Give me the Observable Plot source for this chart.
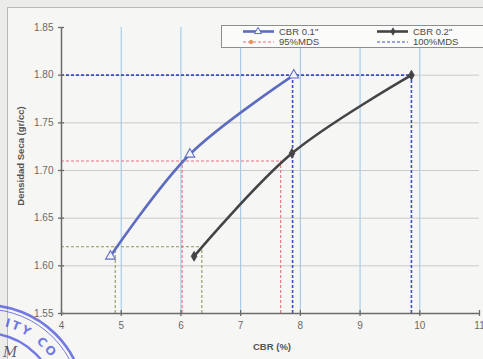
<!DOCTYPE html>
<html>
<head>
<meta charset="utf-8">
<script src="https://cdn.jsdelivr.net/npm/d3@7"></script>
<script src="https://cdn.jsdelivr.net/npm/@observablehq/plot@0.6"></script>
<style>
  body { margin: 0; background: #ececea; font-family: "Liberation Sans", Arial, sans-serif; }
  #chart { position: relative; width: 483px; height: 359px; overflow: hidden; background: #ececea; }
  #frame { position: absolute; left: 7px; top: 7px; width: 600px; height: 500px; border: 1px solid #b9b9b7; background: #f6f6f4; }
  #plot { position: absolute; left: 0; top: 0; }
  .title { position: absolute; font-weight: bold; font-size: 9.5px; color: #555; white-space: nowrap; }
  #xtitle { left: 272px; top: 346px; transform: translate(-50%, -50%); }
  #ytitle { left: 20px; top: 156px; transform: translate(-50%, -50%) rotate(-90deg); }
  #legend { position: absolute; left: 221px; top: 25px; width: 280px; height: 21px; background: #fbfbfa; border: 1px solid #8e8e8c; }
  #stamp { position: absolute; left: 0; top: 0; pointer-events: none; }
</style>
</head>
<body>
<div id="chart">
  <div id="frame"></div>
  <div id="plot"></div>
  <div id="xtitle" class="title">CBR  (%)</div>
  <div id="ytitle" class="title">Densidad Seca (gr/cc)</div>
  <div id="legend"></div>
  <svg id="stamp" width="483" height="359"></svg>
</div>
<script>
// Compaction curves: CBR (%) vs dry density for the two penetrations
const cbr01X = [4.82, 6.15, 7.89];
const cbr01Y = [1.610, 1.717, 1.800];
const cbr02X = [6.22, 7.86, 9.86];
const cbr02Y = [1.610, 1.718, 1.800];

// Reference densities (% of max dry density) and the CBR read at each one
const mdsName = ["100%MDS", "95%MDS", "90%MDS"];
const mdsDensity = [1.80, 1.71, 1.62];
const mdsCbr01 = [7.87, 6.02, 4.90];
const mdsCbr02 = [9.86, 7.67, 6.35];
const mdsColor = ["#3a4fc4", "#e8707e", "#8f9a5a"];

const xTicks = [4, 5, 6, 7, 8, 9, 10, 11];
const yTicks = [1.55, 1.60, 1.65, 1.70, 1.75, 1.80, 1.85];
const xMin = 4, yMin = 1.55;

const blue = "#5d6cc0";
const dark = "#444446";

const curve01 = cbr01X.map((x, i) => ({x, y: cbr01Y[i]}));
const curve02 = cbr02X.map((x, i) => ({x, y: cbr02Y[i]}));
const mds = mdsName.map((name, i) => ({
  name, density: mdsDensity[i], c01: mdsCbr01[i], c02: mdsCbr02[i], color: mdsColor[i]
}));
const guideWidth = d => d.name === "100%MDS" ? 1.6 : 1.1;

const plot = Plot.plot({
  width: 483,
  height: 359,
  marginLeft: 61,
  marginRight: 4,
  marginTop: 27,
  marginBottom: 46,
  style: { background: "transparent", fontFamily: "'Liberation Sans', Arial, sans-serif", fontSize: "10px", color: "#6a6a6a" },
  x: { domain: [4, 11], ticks: xTicks, tickSize: 0, tickPadding: 8, label: null, tickFormat: d => String(d) },
  y: { domain: [1.55, 1.85], ticks: yTicks, tickSize: 0, tickPadding: 8, label: null, tickFormat: d => d.toFixed(2) },
  marks: [
    // grid
    Plot.ruleX(xTicks.slice(1, -1), { x: d => d, stroke: "#8dbfe6", strokeWidth: 0.9 }),
    Plot.ruleY(yTicks.slice(1, -1), { y: d => d, stroke: "#c6c6c4", strokeWidth: 0.9 }),
    // MDS guide lines: horizontal to the CBR 0.2" curve, verticals down to the axis
    Plot.ruleY(mds, { y: "density", x1: xMin, x2: "c02", stroke: "color", strokeDasharray: "3,2", strokeWidth: guideWidth }),
    Plot.ruleX(mds, { x: "c01", y1: yMin, y2: "density", stroke: "color", strokeDasharray: "3,2", strokeWidth: guideWidth }),
    Plot.ruleX(mds, { x: "c02", y1: yMin, y2: "density", stroke: "color", strokeDasharray: "3,2", strokeWidth: guideWidth }),
    // axis lines and crossing ticks
    Plot.ruleX([xMin], { stroke: "#6b6b6b", strokeWidth: 1.5 }),
    Plot.ruleY([yMin], { stroke: "#6b6b6b", strokeWidth: 1.5 }),
    Plot.ruleX(xTicks, { x: d => d, y1: yMin, y2: yMin, insetTop: -3, insetBottom: -3, stroke: "#6b6b6b", strokeWidth: 1.3 }),
    Plot.ruleY(yTicks, { y: d => d, x1: xMin, x2: xMin, insetLeft: -3, insetRight: -3, stroke: "#6b6b6b", strokeWidth: 1.3 }),
    // curves
    Plot.line(curve02, { x: "x", y: "y", curve: "catmull-rom", stroke: dark, strokeWidth: 2.6 }),
    Plot.line(curve01, { x: "x", y: "y", curve: "catmull-rom", stroke: blue, strokeWidth: 2.6 }),
    Plot.dot(curve02, { x: "x", y: "y", symbol: "diamond", r: 3, fill: dark, stroke: dark, strokeWidth: 0.8 }),
    Plot.dot(curve01, { x: "x", y: "y", symbol: "triangle", r: 3.6, fill: "#f4f4f8", stroke: blue, strokeWidth: 1.1 })
  ]
});
document.getElementById("plot").appendChild(plot);

// legend
const legendItems = [
  { text: "CBR 0.1\"", color: blue, width: 2.6, dash: null, marker: "triangle", col: 0, row: 0 },
  { text: "CBR 0.2\"", color: dark, width: 2.6, dash: null, marker: "diamond", col: 1, row: 0 },
  { text: "95%MDS", color: mdsColor[1], width: 1.1, dash: "3,2", marker: "dot", col: 0, row: 1 },
  { text: "100%MDS", color: mdsColor[0], width: 1.1, dash: "3,2", marker: null, col: 1, row: 1 }
];
const leg = d3.select("#legend").append("svg").attr("width", 280).attr("height", 21);
const colX = [21, 155];
legendItems.forEach(it => {
  const x0 = colX[it.col], y0 = 5.5 + it.row * 10.5;
  leg.append("line").attr("x1", x0).attr("x2", x0 + 31).attr("y1", y0).attr("y2", y0)
    .attr("stroke", it.color).attr("stroke-width", it.width).attr("stroke-dasharray", it.dash);
  if (it.marker === "triangle")
    leg.append("path").attr("d", d3.symbol(d3.symbolTriangle, 22)()).attr("transform", `translate(${x0 + 15},${y0})`)
      .attr("fill", "#f4f4f8").attr("stroke", it.color).attr("stroke-width", 1);
  if (it.marker === "diamond")
    leg.append("path").attr("d", d3.symbol(d3.symbolDiamond, 22)()).attr("transform", `translate(${x0 + 16},${y0})`)
      .attr("fill", it.color);
  if (it.marker === "dot")
    leg.append("circle").attr("cx", x0 + 8).attr("cy", y0).attr("r", 2.2).attr("fill", "#e09a60");
  leg.append("text").attr("x", x0 + 36).attr("y", y0).attr("dy", "0.35em")
    .attr("font-size", 9.5).attr("fill", "#4a4a4a").attr("font-family", "'Liberation Sans', Arial, sans-serif")
    .text(it.text);
});

// laboratory seal in the lower left corner
const stamp = d3.select("#stamp");
const cx = -15, cy = 405;
const ink = "rgba(78, 86, 222, 0.78)";
stamp.append("circle").attr("cx", cx).attr("cy", cy).attr("r", 100).attr("fill", "none").attr("stroke", ink).attr("stroke-width", 2.6);
stamp.append("circle").attr("cx", cx).attr("cy", cy).attr("r", 96).attr("fill", "none").attr("stroke", ink).attr("stroke-width", 1);
stamp.append("circle").attr("cx", cx).attr("cy", cy).attr("r", 72).attr("fill", "none").attr("stroke", ink).attr("stroke-width", 2.4);
const rT = 81;
const arc = (a0, a1, r) => {
  const p = a => [cx + r * Math.cos(a * Math.PI / 180), cy + r * Math.sin(a * Math.PI / 180)];
  const [x0, y0] = p(a0), [x1, y1] = p(a1);
  return `M${x0},${y0} A${r},${r} 0 0 1 ${x1},${y1}`;
};
const defs = stamp.append("defs");
defs.append("path").attr("id", "ringA").attr("d", arc(-76, -54, rT));
defs.append("path").attr("id", "ringB").attr("d", arc(-51, -25, rT));
[["ringA", "ITY"], ["ringB", "CO"]].forEach(([id, t]) => {
  stamp.append("text").attr("font-size", 12).attr("font-weight", "bold").attr("fill", ink)
    .attr("font-family", "'DejaVu Sans', sans-serif").attr("letter-spacing", 2)
    .append("textPath").attr("href", "#" + id).text(t);
});
stamp.append("text").attr("x", 3).attr("y", 357).attr("font-size", 14).attr("font-style", "italic")
  .attr("fill", "rgba(40,40,70,0.75)").attr("font-family", "'DejaVu Serif', serif").text("M");
</script>
</body>
</html>
